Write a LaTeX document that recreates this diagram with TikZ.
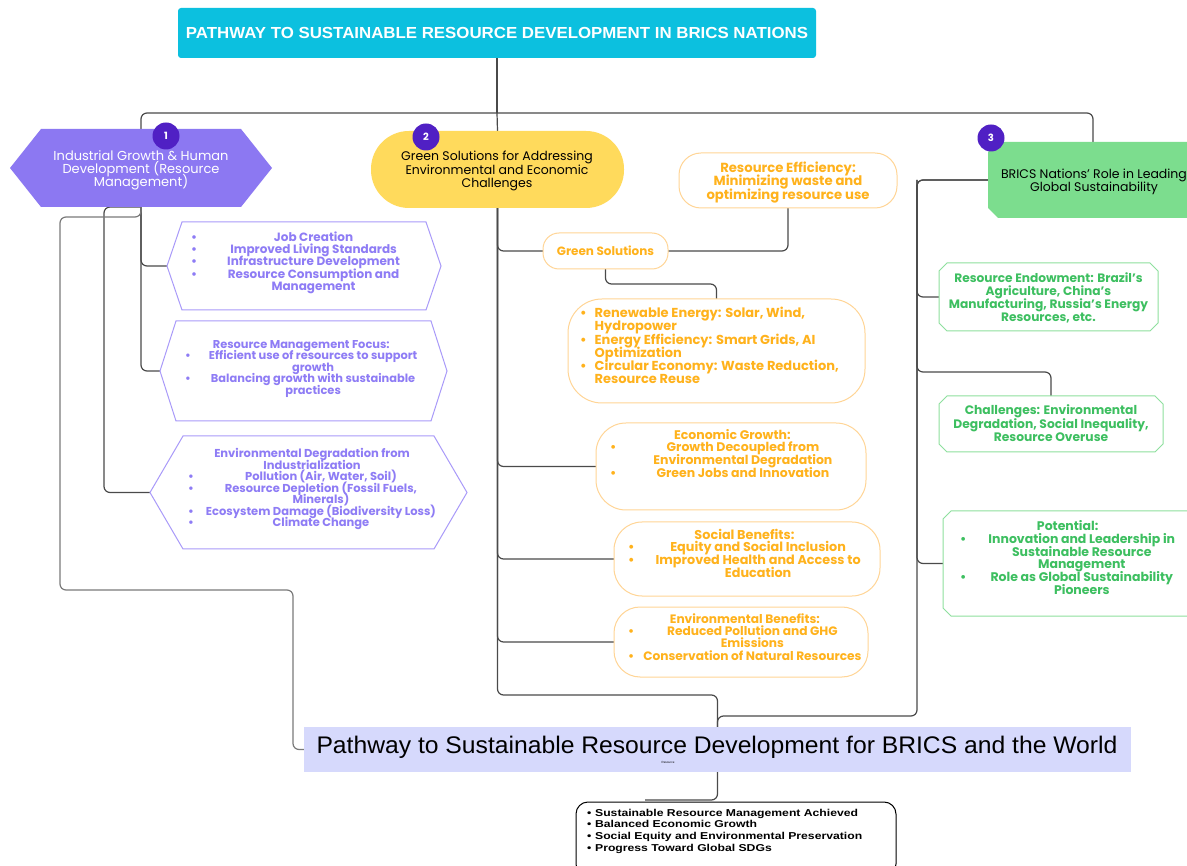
\documentclass[tikz,border=0pt]{standalone}
\usepackage{fontspec}
\usepackage{graphicx}
\setmainfont{Poppins}
\newfontfamily\libfont{Liberation Sans}
\usetikzlibrary{calc}
\pgfdeclarelayer{wires}
\pgfsetlayers{wires,main}

\definecolor{headcyan}{HTML}{0CC0DF}
\definecolor{violetfill}{HTML}{8C78F2}
\definecolor{violettext}{HTML}{8E7CF5}
\definecolor{violetline}{HTML}{A99AF9}
\definecolor{badgeviolet}{HTML}{5020C4}
\definecolor{sunfill}{HTML}{FFDA5C}
\definecolor{ambertext}{HTML}{FFB21C}
\definecolor{amberline}{HTML}{FFD596}
\definecolor{leaffill}{HTML}{7CDD8E}
\definecolor{leaftext}{HTML}{3DBF60}
\definecolor{leafline}{HTML}{8EE09E}
\definecolor{lavender}{HTML}{D6D9FC}
\definecolor{wire}{HTML}{4A4A4A}
\definecolor{wirelight}{HTML}{7A7A7A}

% font size with a fixed line pitch (for centred multi-line labels)
\newcommand\fsz[2]{\fontsize{#1}{#2}\selectfont\lineskiplimit=-50pt\lineskip=0pt\relax}
% font size for tables (rows are spaced by struts)
\newcommand\tsz[2]{\fontsize{#1}{#2}\selectfont}
% table cell whose glyphs do not stretch the row
\newcommand\cell[1]{\smash{#1}}
% hexagonal outline drawn on a named rectangular node
\newcommand\hexoutline[3]{%
  \path[#3] (#1.west) -- ($(#1.north west)+(#2,0)$) -- ($(#1.north east)+(-#2,0)$)
    -- (#1.east) -- ($(#1.south east)+(-#2,0)$) -- ($(#1.south west)+(#2,0)$) -- cycle;}
% outline with cut corners drawn on a named rectangular node
\newcommand\cutoutline[3]{%
  \path[#3] ($(#1.north west)+(#2,0)$) -- ($(#1.north east)+(-#2,0)$) -- ($(#1.north east)+(0,#2)$)
    -- ($(#1.south east)+(0,-#2)$) -- ($(#1.south east)+(-#2,0)$) -- ($(#1.south west)+(#2,0)$)
    -- ($(#1.south west)+(0,-#2)$) -- ($(#1.north west)+(0,#2)$) -- cycle;}

\begin{document}
\begin{tikzpicture}[x=1pt,y=-1pt,
  shell/.style={inner sep=0pt, outer sep=0pt},
  wiring/.style={draw=wire, line width=1.2pt, rounded corners=6pt},
  badge/.style={circle, fill=badgeviolet, minimum size=27pt, inner sep=0pt, text=white,
    font=\bfseries\fsz{10}{10}},
  amberbox/.style={shell, draw=amberline, line width=1pt, fill=white},
  label/.style={inner sep=0pt, align=center}
]
\useasboundingbox (0,0) rectangle (1187,866);
\begin{pgfonlayer}{wires}
  \fill[white] (0,0) rectangle (1187,866);
\end{pgfonlayer}

% ---------- title ----------
\node[fill=headcyan, rounded corners=3pt, minimum width=638pt, minimum height=50pt, inner sep=0pt,
  text=white, font=\libfont\bfseries\fsz{16}{16}] (title) at (497,33)
  {\resizebox{622pt}{\height}{PATHWAY TO SUSTAINABLE RESOURCE DEVELOPMENT IN BRICS NATIONS}};
\coordinate (hub) at (497,113);

% ---------- column 1 ----------
\node[shell, minimum width=262pt, minimum height=78pt] (hexA) at (141,168) {};
\hexoutline{hexA}{31}{fill=violetfill}
\node[label, text=white, font=\fsz{13}{13.3}] (hexAtxt) at (141,170.5)
  {Industrial Growth \& Human\\Development (Resource\\Management)};

\node[shell, minimum width=274pt, minimum height=88pt] (job) at (304,266) {};
\hexoutline{job}{15}{draw=violetline, line width=1pt, fill=white}
\node[inner sep=0pt, anchor=west, text=violettext, font=\bfseries\tsz{12}{12.3}] (jobtxt) at (191,263.5)
  {\begin{tabular}{@{}l@{\hspace{30pt}}c@{}}
   • & \cell{Job Creation}\\
   • & \cell{Improved Living Standards}\\
   • & \cell{Infrastructure Development}\\
   • & \cell{Resource Consumption and}\\
     & \cell{Management}
  \end{tabular}};

\node[shell, minimum width=287pt, minimum height=100pt] (focus) at (303.5,371) {};
\hexoutline{focus}{16}{draw=violetline, line width=1pt, fill=white}
\node[inner sep=0pt, anchor=west, text=violettext, font=\bfseries\tsz{11.4}{11.5}] (focustxt) at (185,368.8)
  {\begin{tabular}{@{}l@{\hspace{18pt}}c@{}}
   \multicolumn{2}{c}{\cell{Resource Management Focus:}}\\
   • & \cell{Efficient use of resources to support}\\
     & \cell{growth}\\
   • & \cell{Balancing growth with sustainable}\\
     & \cell{practices}
  \end{tabular}};

\node[shell, minimum width=317pt, minimum height=113pt] (degrade) at (308.5,492.5) {};
\hexoutline{degrade}{33}{draw=violetline, line width=1pt, fill=white}
\node[inner sep=0pt, anchor=west, text=violettext, font=\bfseries\tsz{11.5}{11.5}] (degradetxt) at (188,490)
  {\begin{tabular}{@{}l@{\hspace{12pt}}c@{}}
   \multicolumn{2}{c}{\cell{Environmental Degradation from}}\\
   \multicolumn{2}{c}{\cell{Industrialization}}\\
   • & \cell{Pollution (Air, Water, Soil)}\\
   • & \cell{Resource Depletion (Fossil Fuels,}\\
     & \cell{Minerals)}\\
   • & \cell{Ecosystem Damage (Biodiversity Loss)}\\
   • & \cell{Climate Change}
  \end{tabular}};

\node[badge] (badgeA) at (166,136) {1};

% ---------- column 2 ----------
\node[shell, fill=sunfill, rounded corners=38pt, minimum width=253pt, minimum height=77pt] (pill) at (497.5,169.5) {};
\node[label, text=black, font=\fsz{12.5}{13.5}] (pilltxt) at (497,171)
  {Green Solutions for Addressing\\Environmental and Economic\\Challenges};
\node[badge] (badgeB) at (426,137) {2};

\node[amberbox, rounded corners=22pt, minimum width=218pt, minimum height=55pt] (effic) at (788,180.5) {};
\node[label, text=ambertext, font=\bfseries\fsz{13.2}{13.5}] (effictxt) at (788,182.5)
  {Resource Efficiency:\\Minimizing waste and\\optimizing resource use};

\node[amberbox, rounded corners=16pt, minimum width=125pt, minimum height=36pt] (gsol) at (605.5,251) {};
\node[label, text=ambertext, font=\bfseries\fsz{12}{12}] (gsoltxt) at (605.5,251) {Green Solutions};

\node[amberbox, rounded corners=34pt, minimum width=297pt, minimum height=104pt] (renew) at (716.5,351) {};
\node[inner sep=0pt, anchor=west, text=ambertext, font=\bfseries\tsz{13}{13.2}] (renewtxt) at (580,348)
  {\begin{tabular}{@{}l@{\hspace{8pt}}l@{}}
   • & \cell{Renewable Energy: Solar, Wind,}\\
     & \cell{Hydropower}\\
   • & \cell{Energy Efficiency: Smart Grids, AI}\\
     & \cell{Optimization}\\
   • & \cell{Circular Economy: Waste Reduction,}\\
     & \cell{Resource Reuse}
  \end{tabular}};

\node[amberbox, rounded corners=30pt, minimum width=270pt, minimum height=87pt] (econ) at (731,466.5) {};
\node[inner sep=0pt, anchor=west, text=ambertext, font=\bfseries\tsz{12.5}{12.7}] (econtxt) at (610,455.8)
  {\begin{tabular}{@{}l@{\hspace{37pt}}c@{}}
   \multicolumn{2}{c}{\cell{\hspace*{22pt}Economic Growth:}}\\
   • & \cell{Growth Decoupled from}\\
     & \cell{Environmental Degradation}\\
   • & \cell{Green Jobs and Innovation}
  \end{tabular}};

\node[amberbox, rounded corners=28pt, minimum width=266pt, minimum height=74pt] (social) at (747,559) {};
\node[inner sep=0pt, anchor=west, text=ambertext, font=\bfseries\tsz{12.8}{12.7}] (socialtxt) at (628,555.8)
  {\begin{tabular}{@{}l@{\hspace{21pt}}c@{}}
   \multicolumn{2}{c}{\cell{Social Benefits:}}\\
   • & \cell{Equity and Social Inclusion}\\
   • & \cell{Improved Health and Access to}\\
     & \cell{Education}
  \end{tabular}};

\node[amberbox, rounded corners=26pt, minimum width=254pt, minimum height=70pt] (envben) at (741,642) {};
\node[inner sep=0pt, anchor=west, text=ambertext, font=\bfseries\tsz{12.2}{12.4}] (envbentxt) at (628,639.2)
  {\begin{tabular}{@{}l@{\hspace{9pt}}c@{}}
   \multicolumn{2}{c}{\cell{Environmental Benefits:}}\\
   • & \cell{Reduced Pollution and GHG}\\
     & \cell{Emissions}\\
   • & \cell{Conservation of Natural Resources}
  \end{tabular}};

% ---------- column 3 ----------
\node[shell, minimum width=210pt, minimum height=76pt] (lead) at (1093,180) {};
\cutoutline{lead}{10}{fill=leaffill}
\node[label, text=black, font=\fsz{12.5}{13}] (leadtxt) at (1094,181.5)
  {BRICS Nations’ Role in Leading\\Global Sustainability};
\node[badge] (badgeC) at (991,138) {3};

\node[shell, minimum width=219pt, minimum height=68pt] (endow) at (1048.5,297) {};
\cutoutline{endow}{8}{draw=leafline, line width=1pt, fill=white}
\node[label, text=leaftext, font=\bfseries\fsz{12.2}{13}] (endowtxt) at (1048.5,297.5)
  {Resource Endowment: Brazil’s\\Agriculture, China’s\\Manufacturing, Russia’s Energy\\Resources, etc.};

\node[shell, minimum width=224pt, minimum height=56pt] (chall) at (1051,424) {};
\cutoutline{chall}{8}{draw=leafline, line width=1pt, fill=white}
\node[label, text=leaftext, font=\bfseries\fsz{12.3}{13.5}] (challtxt) at (1051,423.5)
  {Challenges: Environmental\\Degradation, Social Inequality,\\Resource Overuse};

\node[shell, minimum width=264pt, minimum height=105pt] (potential) at (1075,563.5) {};
\cutoutline{potential}{8}{draw=leafline, line width=1pt, fill=white}
\node[inner sep=0pt, anchor=west, text=leaftext, font=\bfseries\tsz{12.5}{12.8}] (potentialtxt) at (960,560)
  {\begin{tabular}{@{}l@{\hspace{22pt}}c@{}}
   \multicolumn{2}{c}{\cell{Potential:}}\\
   • & \cell{Innovation and Leadership in}\\
     & \cell{Sustainable Resource}\\
     & \cell{Management}\\
   • & \cell{Role as Global Sustainability}\\
     & \cell{Pioneers}
  \end{tabular}};

% ---------- outcome ----------
\node[shell, fill=lavender, minimum width=827pt, minimum height=45pt] (world) at (717.5,749.5) {};
\node[label, text=black, font=\libfont\fsz{24}{24}] (worldtxt) at (717,747.5)
  {\resizebox{801pt}{\height}{Pathway to Sustainable Resource Development for BRICS and the World}};
\node[label, text=black, font=\libfont\fsz{3}{3}] (worldtag) at (668,762) {Resource};

\node[shell, draw=black, line width=1pt, fill=white, rounded corners=12pt,
  minimum width=320pt, minimum height=74pt] (result) at (736,839) {};
\node[inner sep=0pt, anchor=west, text=black, font=\libfont\bfseries\tsz{10}{11.7}] (resulttxt) at (587,831.5)
  {\resizebox{275pt}{\height}{\begin{tabular}{@{}l@{\hspace{3pt}}l@{}}
   • & Sustainable Resource Management Achieved\\
   • & Balanced Economic Growth\\
   • & Social Equity and Environmental Preservation\\
   • & Progress Toward Global SDGs
  \end{tabular}}};

% ---------- connectors ----------
\coordinate (rtrunk) at (917,180);
\begin{pgfonlayer}{wires}
  \draw[wiring] (title.south) -- (hub);
  \draw[wiring] (hexA.north) |- (hub);
  \draw[wiring] (lead.north) |- (hub);
  \draw[wiring] (pill.north) -- (hub);

  \draw[wiring] (hexA.south) |- (job.west);
  \draw[wiring] (hexA.south) |- (focus.west);
  \draw[wiring] (hexA.south) -| ($(degrade.west)+(-46,0)$) -- (degrade.west);
  \draw[wiring, draw=wirelight] (hexA.south) -- ++(0,10) -| (60,590) -| ($(world.west)+(-11,0)$) -- (world.west);

  \draw[wiring] (pill.south) -- ++(0,487) -| (world.north);
  \draw[wiring] (pill.south) |- (gsol.west);
  \draw[wiring] (pill.south) |- (econ.west);
  \draw[wiring] (pill.south) |- (social.west);
  \draw[wiring] (pill.south) |- (envben.west);
  \draw[wiring] (gsol.east) -| (effic.south);
  \draw[wiring] (gsol.south) -- ++(0,15) -| (renew.north);

  \draw[wiring] (lead.west) -- (rtrunk) -- (917,716) -| (world.north);
  \draw[wiring] (lead.west) -- (rtrunk) |- (endow.west);
  \draw[wiring] (rtrunk) -- (917,372) -| (chall.north);
  \draw[wiring] (rtrunk) |- (potential.west);

  \draw[wiring] (world.south) |- ($(result.north)+(-91,-2)$);
\end{pgfonlayer}
\end{tikzpicture}
\end{document}
